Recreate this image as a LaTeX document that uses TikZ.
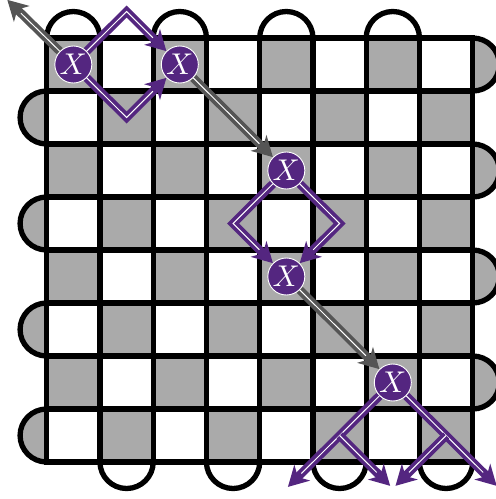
\documentclass[tikz,border=0pt]{standalone}
\usepackage{graphicx}
\usetikzlibrary{arrows.meta}
\definecolor{cellgray}{RGB}{170,170,170}
\definecolor{xpurple}{RGB}{84,38,128}
\definecolor{arrowgray}{RGB}{85,85,85}
\pgfdeclarelayer{bg}
\pgfdeclarelayer{mid}
\pgfsetlayers{bg,mid,main}
\newcommand{\bigX}{\scalebox{3}{$X$}}
\begin{document}
\begin{tikzpicture}[x=1pt,y=-1pt,
  gridline/.style={line width=5.3pt, draw=black},
  capline/.style={line width=5.3pt, draw=black},
  xnode/.style={circle, fill=xpurple, draw=white, line width=0.9pt, minimum size=37pt, inner sep=0pt, text=white},
  dblarrow/.style={draw=#1, line width=8.5pt, line join=miter, -{Stealth[length=20pt,width=22pt,inset=6pt]},
    postaction={draw=white, line width=1pt, -, shorten >=19pt}},
  pdbl/.style={dblarrow=xpurple},
  gdbl/.style={dblarrow=arrowgray}
]
\useasboundingbox (0,0) rectangle (496,499);
\begin{scope}[shift={(46.7,38)}, x=53.25pt, y=-53pt]
  \begin{pgfonlayer}{bg}
    % checkerboard
    \foreach \r in {0,...,7} {
      \foreach \c in {0,2,4,6} {
        \pgfmathtruncatemacro\cc{\c+mod(\r,2)}
        \fill[cellgray] (\cc,\r) rectangle ++(1,1);
      }
    }
    % caps
    \foreach \c in {0,2,4,6}
      \filldraw[capline, fill=white] (\c,0) arc[start angle=180, end angle=360, radius=0.5];
    \foreach \c in {1,3,5,7}
      \filldraw[capline, fill=white] (\c,8) arc[start angle=180, end angle=0, radius=0.5];
    \foreach \r in {1,3,5,7}
      \filldraw[capline, fill=cellgray] (0,\r) arc[start angle=270, end angle=90, radius=0.5];
    \foreach \r in {0,2,4,6}
      \filldraw[capline, fill=cellgray] (8,\r) arc[start angle=-90, end angle=90, radius=0.5];
    % grid lines
    \foreach \i in {1,...,7} {
      \draw[gridline] (\i,0) -- (\i,8);
      \draw[gridline] (0,\i) -- (8,\i);
    }
    \draw[gridline] (0,0) rectangle (8,8);
  \end{pgfonlayer}

  % nodes
  \node[xnode] (n1) at (0.5,0.5) {\bigX};
  \node[xnode] (n2) at (2.5,0.5) {\bigX};
  \node[xnode] (n3) at (4.5,2.5) {\bigX};
  \node[xnode] (n4) at (4.5,4.5) {\bigX};
  \node[xnode] (n5) at (6.5,6.5) {\bigX};

  % helper coordinates
  \coordinate (tl) at (-0.74,-0.72);
  \coordinate (a1) at (1.5,-0.5);
  \coordinate (a2) at (1.5,1.5);
  \coordinate (a3) at (3.5,3.5);
  \coordinate (a4) at (5.5,3.5);
  \coordinate (s1) at (5.5,7.5);
  \coordinate (s2) at (7.5,7.5);
  \coordinate (t1) at (4.53,8.47);
  \coordinate (t2) at (6.45,8.45);
  \coordinate (t3) at (6.55,8.45);
  \coordinate (t4) at (8.45,8.45);

  \begin{pgfonlayer}{mid}
    % gray diagonal arrows
    \draw[gdbl] (n1) -- (tl);
    \draw[gdbl] (n2) -- (n3);
    \draw[gdbl] (n4) -- (n5);
    % purple paths
    \draw[pdbl] (n1) -- (a1) -- (n2);
    \draw[pdbl] (n1) -- (a2) -- (n2);
    \draw[pdbl] (n3) -- (a3) -- (n4);
    \draw[pdbl] (n3) -- (a4) -- (n4);
    \draw[pdbl] (n5) -- (s1) -- (t1);
    \draw[pdbl] (s1) -- (t2);
    \draw[pdbl] (n5) -- (s2) -- (t4);
    \draw[pdbl] (s2) -- (t3);
  \end{pgfonlayer}
\end{scope}
\end{tikzpicture}
\end{document}
